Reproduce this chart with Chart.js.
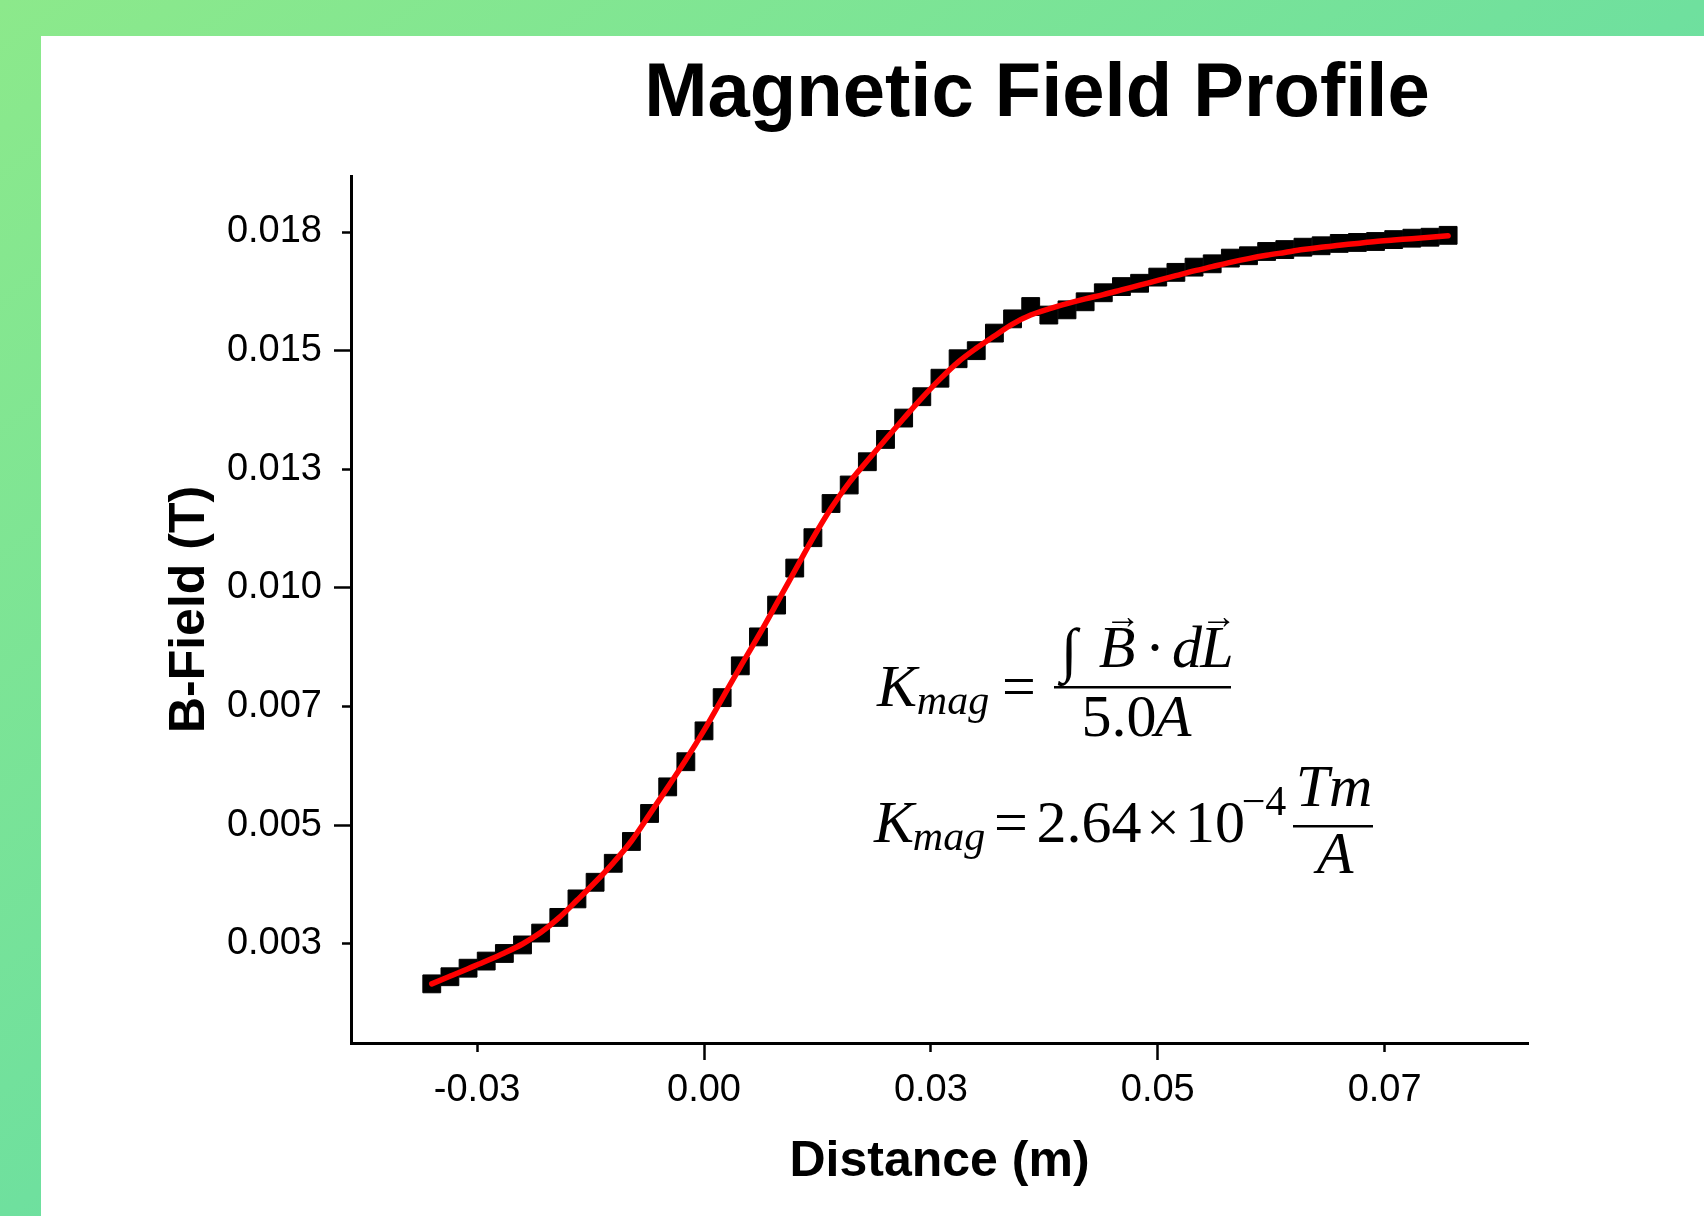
<!DOCTYPE html>
<html>
<head>
<meta charset="utf-8">
<title>Magnetic Field Profile</title>
<script src="https://cdn.jsdelivr.net/npm/chart.js@4.4.1/dist/chart.umd.min.js"></script>
<style>
  html, body { margin: 0; padding: 0; }
  body {
    width: 1704px; height: 1216px; overflow: hidden; position: relative;
    background: linear-gradient(to bottom right, #8ce98b 0%, #6fe09e 50%, #55d8b4 100%);
  }
  #card { position: absolute; left: 41px; top: 36px; right: 0; bottom: 0; background: #fff; }
  #plot { position: absolute; left: 0; top: 0; }
</style>
</head>
<body>
<div id="card"></div>
<canvas id="plot" width="1704" height="1216"></canvas>
<script>
  // distance along the probe (m)
  var distance = [
    -0.030, -0.028, -0.026, -0.024, -0.022, -0.020, -0.018, -0.016, -0.014, -0.012,
    -0.010, -0.008, -0.006, -0.004, -0.002, 0.000, 0.002, 0.004, 0.006, 0.008,
    0.010, 0.012, 0.014, 0.016, 0.018, 0.020, 0.022, 0.024, 0.026, 0.028,
    0.030, 0.032, 0.034, 0.036, 0.038, 0.040, 0.042, 0.044, 0.046, 0.048,
    0.050, 0.052, 0.054, 0.056, 0.058, 0.060, 0.062, 0.064, 0.066, 0.068,
    0.070, 0.072, 0.074, 0.076, 0.078, 0.080, 0.082
  ];

  // measured field (T)
  var bField = [
    0.00166, 0.00181, 0.00199, 0.00214, 0.00230, 0.00248, 0.00273, 0.00306, 0.00345, 0.00380,
    0.00420, 0.00466, 0.00525, 0.00581, 0.00634, 0.00699, 0.00769, 0.00836, 0.00897, 0.00964,
    0.01042, 0.01106, 0.01178, 0.01217, 0.01266, 0.01313, 0.01358, 0.01403, 0.01442, 0.01483,
    0.01500, 0.01537, 0.01567, 0.01593, 0.01575, 0.01586, 0.01603, 0.01622, 0.01635, 0.01642,
    0.01655, 0.01665, 0.01676, 0.01683, 0.01695, 0.01700, 0.01709, 0.01713, 0.01718, 0.01721,
    0.01726, 0.01728, 0.01730, 0.01734, 0.01737, 0.01739, 0.01743
  ];

  // fitted curve (T), same distances
  var bFit = [
    0.00166, 0.00182, 0.00198, 0.00214, 0.00231, 0.00250, 0.00274, 0.00305, 0.00342, 0.00380,
    0.00421, 0.00467, 0.00523, 0.00580, 0.00638, 0.00700, 0.00767, 0.00834, 0.00899, 0.00967,
    0.01036, 0.01105, 0.01168, 0.01222, 0.01268, 0.01313, 0.01357, 0.01400, 0.01440, 0.01476,
    0.01505, 0.01531, 0.01556, 0.01575, 0.01588, 0.01599, 0.01609, 0.01618, 0.01628, 0.01638,
    0.01648, 0.01658, 0.01668, 0.01677, 0.01686, 0.01694, 0.01701, 0.01707, 0.01713, 0.01718,
    0.01722, 0.01726, 0.01730, 0.01733, 0.01736, 0.01739, 0.01742
  ];

  var xTicks = [-0.025, 0, 0.025, 0.05, 0.075];
  var xTickLabels = ['-0.03', '0.00', '0.03', '0.05', '0.07'];
  var yTicks = [0.0025, 0.005, 0.0075, 0.01, 0.0125, 0.015, 0.0175];
  var yTickLabels = ['0.003', '0.005', '0.007', '0.010', '0.013', '0.015', '0.018'];
  var xMajor = [0, 0.05];
  var yMajor = [0.005, 0.01, 0.015];

  function points(ys) {
    return distance.map(function (x, i) { return { x: x, y: ys[i] }; });
  }

  function isMajor(list, v) {
    return list.some(function (m) { return Math.abs(m - v) < 1e-9; });
  }

  // title + formula text drawn on top of the chart
  var overlayText = {
    id: 'overlayText',
    afterDraw: function (chart) {
      var ctx = chart.ctx;
      var serif = '"Liberation Serif", "DejaVu Serif", serif';
      function put(text, x, y, font) {
        ctx.font = font;
        ctx.textAlign = 'center';
        ctx.textBaseline = 'alphabetic';
        ctx.fillText(text, x, y);
      }
      ctx.save();
      ctx.fillStyle = '#000';
      put('Magnetic Field Profile', 1037, 116, 'bold 76px "Liberation Sans", Arial, sans-serif');

      var it = 'italic 60px ' + serif;
      var up = '60px ' + serif;
      var sub = 'italic 42px ' + serif;

      // K_mag = (∫ B·dL) / 5.0A
      put('K', 897, 706, it);
      put('mag', 953, 714, sub);
      put('=', 1019, 706, up);
      put('\u222B', 1069, 670, '60px ' + serif);
      put('B', 1117, 667, it);
      put('\u2192', 1123, 628, '36px ' + serif);
      put('\u00B7', 1155, 667, up);
      put('d', 1187, 667, it);
      put('L', 1217, 667, it);
      put('\u2192', 1219, 628, '36px ' + serif);
      ctx.fillRect(1054, 686, 177, 2.5);
      put('5.0', 1119, 736, up);
      put('A', 1173, 736, it);

      // K_mag = 2.64 × 10^-4 Tm/A
      put('K', 894, 842, it);
      put('mag', 949, 850, sub);
      put('=', 1011, 842, up);
      put('2.64', 1089, 842, up);
      put('\u00D7', 1163, 842, up);
      put('10', 1215, 842, up);
      put('\u22124', 1264, 815, '42px ' + serif);
      put('Tm', 1334, 806, it);
      ctx.fillRect(1293, 825, 80, 2.5);
      put('A', 1335, 873, it);
      ctx.restore();
    }
  };

  var ctx = document.getElementById('plot').getContext('2d');
  window.fieldChart = new Chart(ctx, {
    type: 'scatter',
    data: {
      datasets: [
        {
          label: 'Fit',
          data: points(bFit),
          showLine: true,
          borderColor: '#ff0000',
          borderWidth: 5.5,
          borderCapStyle: 'round',
          cubicInterpolationMode: 'monotone',
          pointRadius: 0,
          order: 0
        },
        {
          label: 'Measured',
          data: points(bField),
          pointStyle: 'rect',
          pointRadius: 12.6,
          pointBorderWidth: 1,
          backgroundColor: '#000',
          borderColor: '#000',
          order: 1
        }
      ]
    },
    options: {
      responsive: false,
      animation: false,
      devicePixelRatio: 1,
      layout: { padding: { left: 0, top: 176, right: 176, bottom: 0 } },
      plugins: {
        legend: { display: false },
        tooltip: { enabled: false },
        title: { display: false }
      },
      scales: {
        x: {
          type: 'linear',
          min: -0.0389,
          max: 0.0908,
          afterFit: function (s) { s.height = 173; },
          afterBuildTicks: function (s) {
            s.ticks = xTicks.map(function (v) { return { value: v }; });
          },
          border: { display: true, color: '#000', width: 3 },
          grid: {
            drawOnChartArea: false,
            tickLength: 17,
            tickColor: '#000',
            tickWidth: 2.5,
            // minor ticks: short stub next to the axis
            tickBorderDash: function (c) {
              return (c.tick && isMajor(xMajor, c.tick.value)) ? [] : [7, 40];
            }
          },
          ticks: {
            color: '#000',
            padding: 8,
            maxRotation: 0,
            font: { family: '"Liberation Sans", Arial, sans-serif', size: 38 },
            callback: function (v) { return xTickLabels[xTicks.indexOf(v)]; }
          },
          title: {
            display: true,
            text: 'Distance (m)',
            color: '#000',
            padding: { top: 0, bottom: 24 },
            font: { family: '"Liberation Sans", Arial, sans-serif', size: 50, weight: 'bold' }
          }
        },
        y: {
          type: 'linear',
          min: 0.000414,
          max: 0.01868,
          afterFit: function (s) { s.width = 351; },
          afterBuildTicks: function (s) {
            s.ticks = yTicks.map(function (v) { return { value: v }; });
          },
          border: { display: true, color: '#000', width: 3 },
          grid: {
            drawOnChartArea: false,
            tickLength: 17,
            tickColor: '#000',
            tickWidth: 2.5,
            // y ticks are drawn from the outer end, so skip the first part
            tickBorderDash: function (c) {
              return (c.tick && isMajor(yMajor, c.tick.value)) ? [] : [0, 8, 20, 40];
            }
          },
          ticks: {
            color: '#000',
            padding: 12,
            font: { family: '"Liberation Sans", Arial, sans-serif', size: 38 },
            callback: function (v) { return yTickLabels[yTicks.indexOf(v)]; }
          },
          title: {
            display: true,
            text: 'B-Field (T)',
            color: '#000',
            padding: { top: 160, bottom: 0 },
            font: { family: '"Liberation Sans", Arial, sans-serif', size: 50, weight: 'bold' }
          }
        }
      }
    },
    plugins: [overlayText]
  });
</script>
</body>
</html>
